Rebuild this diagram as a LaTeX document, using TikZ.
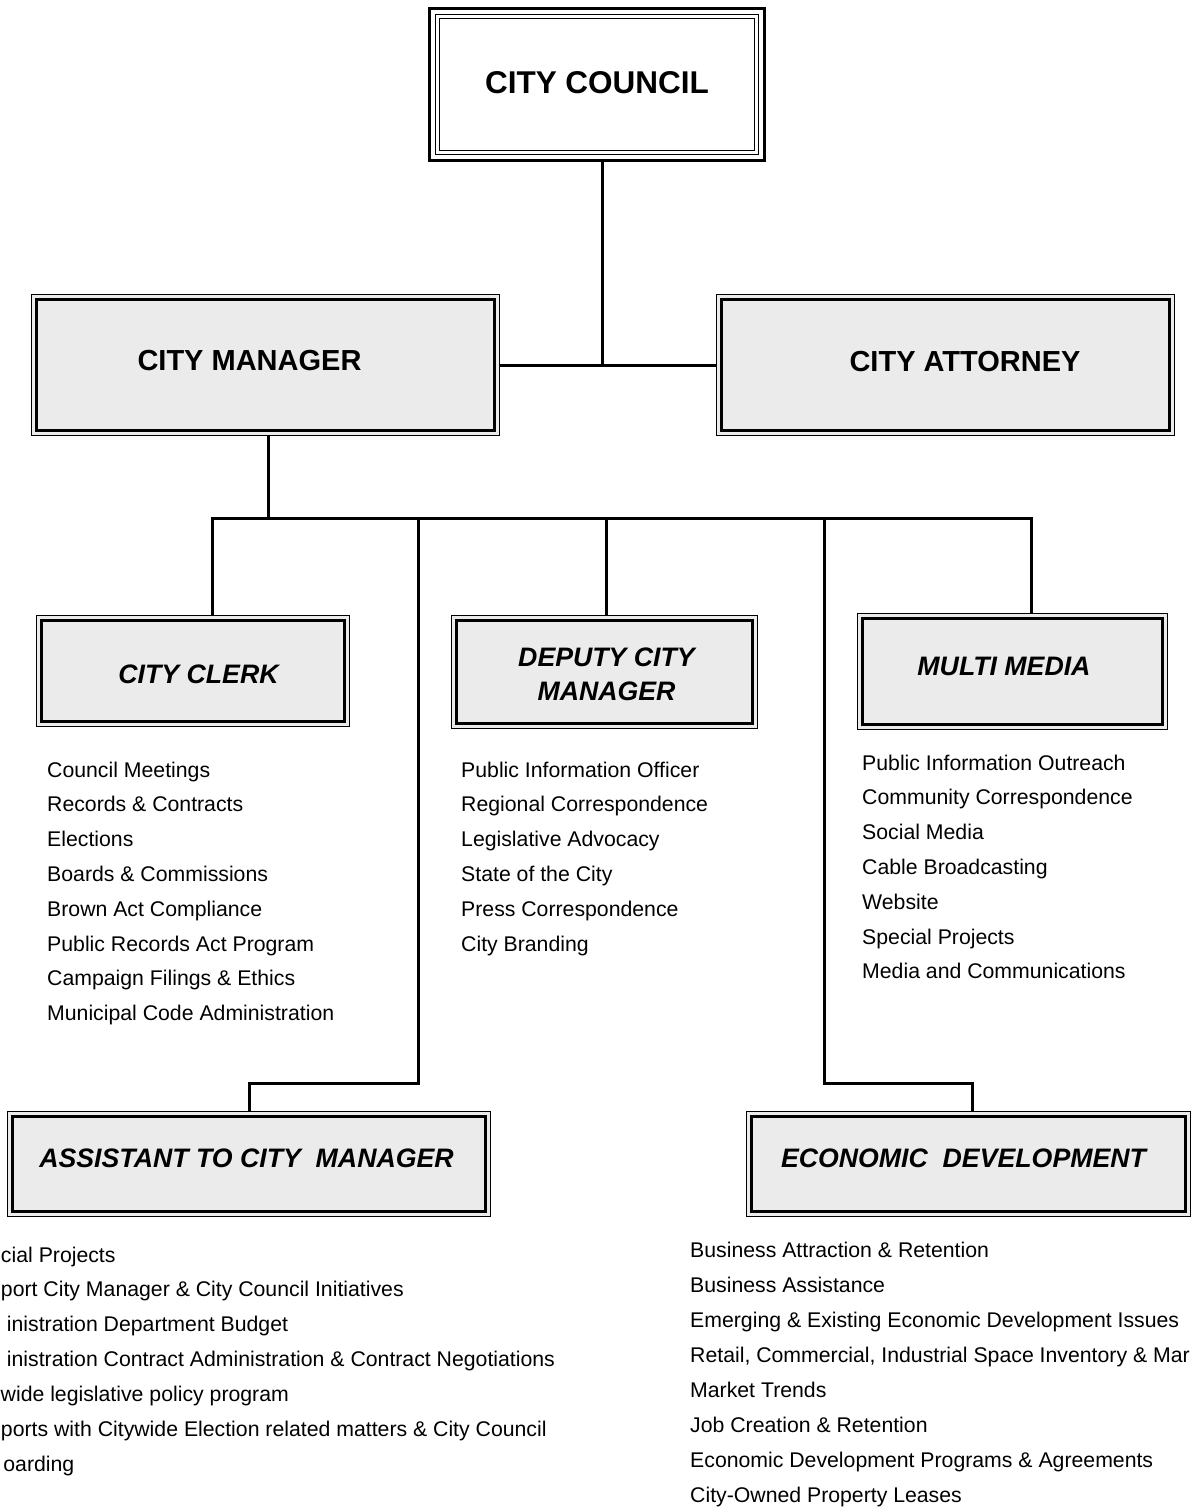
\documentclass[tikz,border=0pt]{standalone}
\usepackage{fontspec}
\setmainfont{Liberation Sans}
\usetikzlibrary{calc}
\definecolor{boxfill}{gray}{0.92}
\begin{document}
\begin{tikzpicture}[x=1pt,y=-1pt,
  box/.style={draw, line width=1.3pt, fill=boxfill, inner sep=0pt, outer sep=0pt},
  innerline/.style={line width=2.6pt},
  conn/.style={line width=3pt},
  tone/.style={font=\fontsize{31.5}{36}\selectfont\bfseries, inner sep=0pt},
  ttwo/.style={font=\fontsize{29}{34}\selectfont\bfseries, inner sep=0pt},
  tthree/.style={font=\fontsize{26.7}{32}\selectfont\bfseries\itshape, inner sep=0pt},
  item/.style={font=\fontsize{21.25}{25}\selectfont, anchor=base west, inner sep=0pt}]
\useasboundingbox (0,0) rectangle (1191,1508);

% ---- City Council (triple border)
\node[draw, line width=3.2pt, fill=white, inner sep=0pt, outer sep=0pt,
      minimum width=335pt, minimum height=152pt] (council) at (597,84.5) {};
\draw[line width=1pt] ($(council.north west)+(6,6)$) rectangle ($(council.south east)+(-6,-6)$);
\draw[line width=1.3pt] ($(council.north west)+(10,10)$) rectangle ($(council.south east)+(-10,-10)$);
\node[tone] (councilt) at (597,82.5) {CITY COUNCIL};

% ---- boxes
\node[box, minimum width=468pt, minimum height=141pt] (cm) at (265.5,365) {};
\node[box, minimum width=458pt, minimum height=141pt] (ca) at (945.5,365) {};
\node[box, minimum width=313pt, minimum height=111pt] (clerk) at (193,671) {};
\node[box, minimum width=306pt, minimum height=113pt] (dcm) at (604.5,672) {};
\node[box, minimum width=310pt, minimum height=116pt] (mm) at (1012.5,671.5) {};
\node[box, minimum width=483pt, minimum height=105pt] (asst) at (249,1164) {};
\node[box, minimum width=444pt, minimum height=105pt] (ed) at (968.5,1164) {};
\foreach \n in {cm,ca,clerk,dcm,mm,asst,ed}
  \draw[innerline] ($(\n.north west)+(5,5)$) rectangle ($(\n.south east)+(-5,-5)$);

% ---- titles
\node[ttwo] (cmt) at (249.5,361) {CITY MANAGER};
\node[ttwo] (cat) at (965,362) {CITY ATTORNEY};
\node[tthree] (clerkt) at (198.5,674) {CITY CLERK};
\node[tthree] (dcmt1) at (606.5,657.5) {DEPUTY CITY};
\node[tthree] (dcmt2) at (606.5,691) {MANAGER};
\node[tthree] (mmt) at (1004,666) {MULTI MEDIA};
\node[tthree] (asstt) at (246.5,1158) {ASSISTANT TO CITY~ MANAGER};
\node[tthree] (edt) at (963.5,1158) {ECONOMIC~ DEVELOPMENT};

% ---- connectors
\coordinate (j1) at (602,365);
\coordinate (b0) at (268,518);
\coordinate (bl) at (212,518);
\coordinate (br) at (1031,518);
\coordinate (a1) at (418,518);
\coordinate (a2) at (418,1083);
\coordinate (a3) at (249,1083);
\coordinate (d1) at (606,518);
\coordinate (e1) at (824,518);
\coordinate (e2) at (824,1083);
\coordinate (e3) at (972,1083);
\draw[conn] (council.south -| j1) -- (j1);
\draw[conn] (cm.east) -- (ca.west);
\draw[conn] (cm.south -| b0) -- (b0);
\draw[conn] ($(bl)+(-1.5,0)$) -- ($(br)+(1.5,0)$);
\draw[conn] (bl) -- (bl |- clerk.north);
\draw[conn] (a1) -- ($(a2)+(0,1.5)$);
\draw[conn] ($(a2)+(1.5,0)$) -- ($(a3)+(-1.5,0)$);
\draw[conn] (a3) -- (a3 |- asst.north);
\draw[conn] (d1) -- (d1 |- dcm.north);
\draw[conn] (e1) -- ($(e2)+(0,1.5)$);
\draw[conn] ($(e2)+(-1.5,0)$) -- ($(e3)+(1.5,0)$);
\draw[conn] (e3) -- (e3 |- ed.north);
\draw[conn] (br) -- (br |- mm.north);

% ---- lists
\foreach \t [count=\i from 0] in {Council Meetings, Records \& Contracts, Elections,
  Boards \& Commissions, Brown Act Compliance, Public Records Act Program,
  Campaign Filings \& Ethics, Municipal Code Administration}
  \node[item] (clerk\i) at (47,{777+34.8*\i}) {\t};
\foreach \t [count=\i from 0] in {Public Information Officer, Regional Correspondence,
  Legislative Advocacy, State of the City, Press Correspondence, City Branding}
  \node[item] (dcm\i) at (461,{777+34.8*\i}) {\t};
\foreach \t [count=\i from 0] in {Public Information Outreach, Community Correspondence,
  Social Media, Cable Broadcasting, Website, Special Projects, Media and Communications}
  \node[item] (mm\i) at (862,{770+34.8*\i}) {\t};
% assistant list: as printed, cut at the left edge of the sheet
\foreach \t/\x [count=\i from 0] in {cial Projects/0.8,
  port City Manager \& City Council Initiatives/0.8,
  inistration Department Budget/6.7,
  inistration Contract Administration \& Contract Negotiations/6.7,
  wide legislative policy program/0.5,
  ports with Citywide Election related matters \& City Council/0.8,
  oarding/3.2}
  \node[item] (asst\i) at (\x,{1262+34.9*\i}) {\t};
\foreach \t [count=\i from 0] in {Business Attraction \& Retention, Business Assistance,
  Emerging \& Existing Economic Development Issues,
  {Retail, Commercial, Industrial Space Inventory \& Mar},
  Market Trends, Job Creation \& Retention,
  Economic Development Programs \& Agreements, City-Owned Property Leases}
  \node[item] (ed\i) at (690,{1257+35.1*\i}) {\t};
\end{tikzpicture}
\end{document}
